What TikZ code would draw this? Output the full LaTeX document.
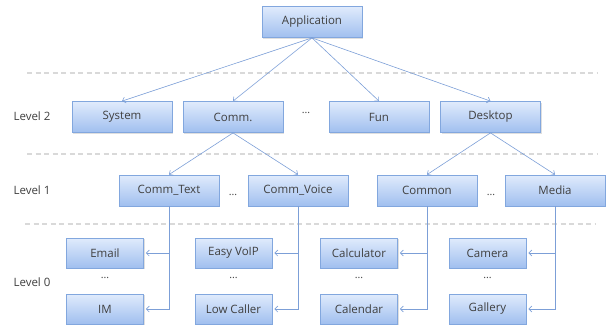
\documentclass[tikz,border=0pt]{standalone}
\usepackage{fontspec}
\setmainfont{Open Sans}
\usetikzlibrary{shadows,arrows.meta}

\definecolor{boxtop}{HTML}{E0EBFC}
\definecolor{boxbot}{HTML}{A0BFEF}
\definecolor{boxline}{HTML}{82A7DE}
\definecolor{linkcol}{HTML}{7C9FD7}
\definecolor{sepcol}{HTML}{D9D9D9}
\definecolor{txtcol}{HTML}{404040}

\tikzset{modbox/.style = {rectangle, draw=boxline, line width=0.8pt,
                          top color=boxtop, bottom color=boxbot,
                          minimum width=#1, minimum height=31pt,
                          text=txtcol, font=\fontsize{11.5}{13}\selectfont,
                          drop shadow={shadow xshift=1pt, shadow yshift=-1.2pt,
                                       opacity=0.25}},
         modbox/.default=100pt,
         leafbox/.style = {modbox=77pt, minimum height=30pt},
         link/.style = {draw=linkcol, line width=0.6pt,
                        -{Straight Barb[length=3pt,width=6pt]}},
         sepline/.style = {draw=sepcol, line width=1.4pt, dash pattern=on 5pt off 3.5pt},
         lvl/.style = {text=txtcol, font=\fontsize{11.5}{13}\selectfont},
         dots/.style = {text=txtcol, font=\fontsize{10.5}{12}\selectfont}
        }

\begin{document}
\begin{tikzpicture}[x=1pt, y=-1pt]
  \useasboundingbox (0,0) rectangle (612,324);

  % separators between the levels
  \draw[sepline] (27,73) -- (598,73);
  \draw[sepline] (27,154) -- (598,154);
  \draw[sepline] (25,224) -- (596,224);

  % level labels
  \node[lvl] (l2) at (32,116) {Level 2};
  \node[lvl] (l1) at (32,190) {Level 1};
  \node[lvl] (l0) at (32,282) {Level 0};

  % top
  \node[modbox] (app) at (312,22) {Application};

  % level 2
  \node[modbox] (sys)  at (122,117) {System};
  \node[modbox] (comm) at (233,117) {Comm.};
  \node[modbox] (fun)  at (379,117) {Fun};
  \node[modbox] (desk) at (490.5,117) {Desktop};
  \node[dots] (d2) at (306,113) {...};

  % level 1
  \node[modbox] (ctext)  at (169,190.5) {Comm\_Text};
  \node[modbox] (cvoice) at (298,190.5) {Comm\_Voice};
  \node[modbox] (common) at (427,190.5) {Common};
  \node[modbox] (media)  at (555,190.5) {Media};
  \node[dots] (d1a) at (233,195) {...};
  \node[dots] (d1b) at (491,195) {...};

  % level 0
  \node[leafbox] (email) at (105,253)   {Email};
  \node[leafbox] (im)    at (105,309)   {IM};
  \node[leafbox] (voip)  at (233.5,253) {Easy VoIP};
  \node[leafbox] (lowc)  at (233.5,309) {Low Caller};
  \node[leafbox] (calc)  at (359,253)   {Calculator};
  \node[leafbox] (cal)   at (359,309)   {Calendar};
  \node[leafbox] (cam)   at (487.5,253) {Camera};
  \node[leafbox] (gal)   at (487.5,309) {Gallery};
  \node[dots] (d0a) at (105,278)   {...};
  \node[dots] (d0b) at (233.5,278) {...};
  \node[dots] (d0c) at (359,278)   {...};
  \node[dots] (d0d) at (487.5,278) {...};

  % links
  \foreach \t in {sys,comm,fun,desk}
    \draw[link] (app.south) -- (\t.north);
  \draw[link] (comm.south) -- (ctext.north);
  \draw[link] (comm.south) -- (cvoice.north);
  \draw[link] (desk.south) -- (common.north);
  \draw[link] (desk.south) -- (media.north);

  \draw[link] (ctext.south)  |- ([xshift=2pt]email.east);
  \draw[link] (ctext.south)  |- ([xshift=2pt]im.east);
  \draw[link] (cvoice.south) |- ([xshift=2pt]voip.east);
  \draw[link] (cvoice.south) |- ([xshift=2pt]lowc.east);
  \draw[link] (common.south) |- ([xshift=2pt]calc.east);
  \draw[link] (common.south) |- ([xshift=2pt]cal.east);
  \draw[link] (media.south)  |- ([xshift=2pt]cam.east);
  \draw[link] (media.south)  |- ([xshift=2pt]gal.east);
\end{tikzpicture}
\end{document}
